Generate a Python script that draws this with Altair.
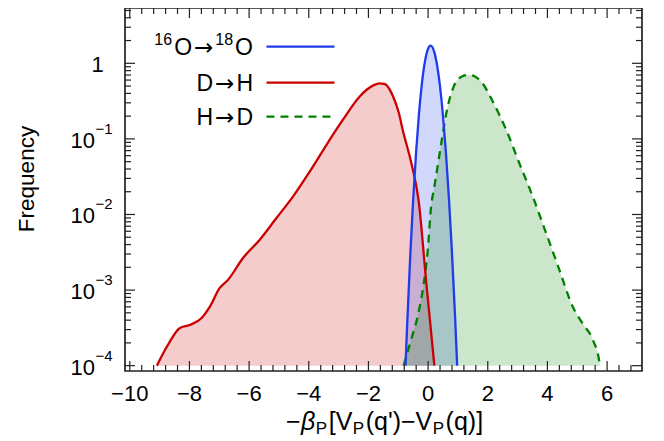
import altair as alt
import pandas as pd

FONT = "Liberation Sans"
AFONT = "DejaVu Sans"

# ---- data ----
blue_x = [-0.757, -0.70, -0.60, -0.50, -0.40, -0.30, -0.20, -0.10, 0.00, 0.08,
          0.20, 0.30, 0.40, 0.50, 0.60, 0.70, 0.80, 0.90, 0.975]
blue_y = [1.0e-4, 3.6e-4, 2.75e-3, 1.58e-2, 6.9e-2, 0.229, 0.574, 1.09, 1.56, 1.71,
          1.44, 0.95, 0.49, 0.20, 0.0635, 0.0159, 3.1e-3, 4.8e-4, 1.0e-4]

red_x = [-9.09, -8.88, -8.66, -8.33, -7.99, -7.60, -7.32, -6.99, -6.71, -6.21,
         -5.65, -5.09, -4.53, -3.97, -3.41, -2.86, -2.30, -2.05, -1.82, -1.63, -1.45,
         -1.30, -1.18, -0.98, -0.85, -0.56, -0.32, -0.06, 0.21]
red_y = [1.0e-4, 1.46e-4, 2.07e-4, 3.13e-4, 3.45e-4, 4.24e-4, 6.0e-4, 1.06e-3, 1.36e-3, 2.64e-3,
         4.6e-3, 8.9e-3, 1.72e-2, 3.68e-2, 8.3e-2, 0.178, 0.361, 0.45, 0.515, 0.543, 0.53,
         0.46, 0.37, 0.22, 0.131, 0.0475, 0.0155, 1.24e-3, 1.0e-4]

green_x = [-0.82, -0.57, -0.35, -0.18, -0.01, 0.10, 0.21, 0.44, 0.61, 0.88,
           1.12, 1.36, 1.58, 1.80, 2.17, 2.62, 3.06, 3.51, 3.96, 4.40, 4.85,
           5.18, 5.52, 5.74, 5.76]
green_y = [1.0e-4, 2.2e-4, 4.5e-4, 1.0e-3, 3.4e-3, 1.27e-2, 2.33e-2, 8.7e-2, 0.218, 0.516,
           0.665, 0.70, 0.665, 0.56, 0.31, 0.131, 0.0475, 0.0172, 5.6e-3, 1.85e-3, 6.0e-4,
           3.6e-4, 2.2e-4, 1.13e-4, 1.0e-4]

x_tick_labels = [-10, -8, -6, -4, -2, 0, 2, 4, 6]
y_major = [1e-4, 1e-3, 1e-2, 1e-1]
y_sup = ["\u22124", "\u22123", "\u22122", "\u22121"]

# ---- layout ----
W, H = 517, 363
XDOM = [-10.16, 7.17]
YDOM = [8.5e-5, 5.39]
BLUE, RED, GREEN = "#1e3ceb", "#cc0000", "#008000"
FRAME = "#222222"

xminor = [round(-10 + 0.4 * k, 1) for k in range(0, 43) if k % 5 != 0]
ymajor_all = [1e-4, 1e-3, 1e-2, 1e-1, 1.0]
yminor = [m * 10.0 ** d for d in range(-4, 1) for m in range(2, 10) if m * 10.0 ** d < YDOM[1]]

xs = alt.Scale(domain=XDOM, nice=False, zero=False)
ys = alt.Scale(type="log", domain=YDOM, nice=False)
XE = lambda f="x": alt.X(f + ":Q", scale=xs, axis=None)
YE = lambda f="y": alt.Y(f + ":Q", scale=ys, axis=None)

def series(xv, yv):
    return pd.DataFrame({"x": xv, "y": yv})

def area(df, color):
    return alt.Chart(df).mark_area(interpolate="monotone", color=color, opacity=0.2).encode(
        x=XE(), y=YE(), y2=alt.datum(1e-4))

def line(df, color, dash=None):
    kw = dict(interpolate="monotone", color=color, strokeWidth=2.3)
    if dash:
        kw["strokeDash"] = dash
    return alt.Chart(df).mark_line(**kw).encode(x=XE(), y=YE())

red_df = series(red_x, red_y)
blue_df = series(blue_x, blue_y)
green_df = series(green_x, green_y)

def xticks(vals, length):
    d = pd.DataFrame({"x": vals})
    bot = alt.Chart(d).mark_rule(color=FRAME, strokeWidth=1.2).encode(
        x=XE(), y=alt.value(H), y2=alt.value(H - length))
    top = alt.Chart(d).mark_rule(color=FRAME, strokeWidth=1.2).encode(
        x=XE(), y=alt.value(0), y2=alt.value(length))
    return [bot, top]

def yticks(vals, length):
    d = pd.DataFrame({"y": vals})
    lft = alt.Chart(d).mark_rule(color=FRAME, strokeWidth=1.2).encode(
        y=YE(), x=alt.value(0), x2=alt.value(length))
    rgt = alt.Chart(d).mark_rule(color=FRAME, strokeWidth=1.2).encode(
        y=YE(), x=alt.value(W), x2=alt.value(W - length))
    return [lft, rgt]

ticks = xticks(x_tick_labels, 10) + xticks(xminor, 6) + yticks(ymajor_all, 10) + yticks(yminor, 6)

# x tick labels
xlab_df = pd.DataFrame({"x": x_tick_labels,
                        "t": [str(v).replace("-", "\u2212") for v in x_tick_labels]})
xlabels = alt.Chart(xlab_df).mark_text(align="center", baseline="alphabetic", fontSize=22, font=FONT,
                                       color="black").encode(x=XE(), y=alt.value(H + 30), text="t:N")

# y tick labels 10^n
ylab_df = pd.DataFrame({"y": y_major, "sup": y_sup})
ten = alt.Chart(ylab_df).mark_text(text="10", align="right", baseline="alphabetic", dy=9,
                                   fontSize=22, font=FONT, color="black").encode(y=YE(), x=alt.value(-30))
sup = alt.Chart(ylab_df).mark_text(align="left", baseline="alphabetic", dy=-5,
                                   fontSize=15, font=FONT, color="black").encode(
    y=YE(), x=alt.value(-29.5), text="sup:N")
one = alt.Chart(pd.DataFrame({"y": [1.0]})).mark_text(text="1", align="left", baseline="alphabetic", dy=9,
                                                      fontSize=22, font=FONT, color="black").encode(
    y=YE(), x=alt.value(-33.5))

one_row = pd.DataFrame({"a": [0]})
ytitle = alt.Chart(one_row).mark_text(text="Frequency", angle=270, align="center", baseline="alphabetic",
                                      fontSize=22.5, font=FONT, color="black").encode(
    x=alt.value(-91), y=alt.value(171))

WID = {"\u2212": 584, "\u03b2": 575, "[": 278, "V": 667, "P": 667, "(": 333, "q": 556,
       "'": 191, ")": 333, "]": 278, "O": 778, "D": 722, "H": 722, "1": 556, "6": 556, "8": 556,
       "\u2192": 838}

def piece_w(t, s):
    return sum(WID[c] for c in t) * s / 1000.0

def text_piece(t, x, y, size, style="normal", font=FONT):
    return alt.Chart(one_row).mark_text(text=t, align="left", baseline="alphabetic", fontSize=size,
                                        font=font, fontStyle=style, color="black").encode(
        x=alt.value(x), y=alt.value(y))

# x title composed: -β_P[V_P(q')-V_P(q)]
F_MAIN, F_SUB = 25, 17
pieces = [("\u2212", F_MAIN, 0, "normal", 0.5), ("\u03b2", F_MAIN, 0, "italic", 0.5),
          ("P", F_SUB, 4, "normal", 1.5), ("[V", F_MAIN, 0, "normal", 0.5), ("P", F_SUB, 4, "normal", 1.5),
          ("(q')\u2212V", F_MAIN, 0, "normal", 0.5), ("P", F_SUB, 4, "normal", 1.5),
          ("(q)]", F_MAIN, 0, "normal", 0)]
widths = [piece_w(t, s) + g for t, s, dy, st, g in pieces]
pos = W / 2.0 + 1 - sum(widths) / 2.0
TITLE_BASE = 422
xtitle_layers = []
for (t, s, dy, st, g), w in zip(pieces, widths):
    xtitle_layers.append(text_piece(t, pos, TITLE_BASE + dy, s, st))
    pos += w

# legend (composed, right aligned at LEG_TX)
LEG_TX, LEG_X1, LEG_X2 = 128, 141.5, 209.5
LEG_Y = [38.7, 74.7, 108.7]
F_LEG, F_LSUP = 23, 16
rows = [
    [("16", F_LSUP, -10, FONT), ("O", F_LEG, 0, FONT), ("\u2192", F_LEG, 0, AFONT),
     ("18", F_LSUP, -10, FONT), ("O", F_LEG, 0, FONT)],
    [("D", F_LEG, 0, FONT), ("\u2192", F_LEG, 0, AFONT), ("H", F_LEG, 0, FONT)],
    [("H", F_LEG, 0, FONT), ("\u2192", F_LEG, 0, AFONT), ("D", F_LEG, 0, FONT)],
]
GAP = 2.0
legend_layers = []
for row, yy, col, dash in zip(rows, LEG_Y, [BLUE, RED, GREEN], [None, None, [8, 6]]):
    ws = [piece_w(t, s) for t, s, d, f in row]
    pos = LEG_TX - sum(ws) - GAP * (len(row) - 1)
    base = yy + 8.2
    for (t, s, d, f), w in zip(row, ws):
        legend_layers.append(text_piece(t, pos, base + d, s, "normal", f))
        pos += w + GAP
    kw = dict(color=col, strokeWidth=2.3)
    if dash:
        kw["strokeDash"] = dash
    legend_layers.append(
        alt.Chart(one_row).mark_rule(**kw).encode(x=alt.value(LEG_X1), x2=alt.value(LEG_X2), y=alt.value(yy)))

layers = ([area(red_df, RED), area(blue_df, BLUE), area(green_df, GREEN),
           line(green_df, GREEN, [8, 6]), line(red_df, RED), line(blue_df, BLUE)]
          + ticks + [xlabels, ten, sup, one, ytitle] + xtitle_layers + legend_layers)

chart = alt.layer(*layers).properties(
    width=W, height=H,
    autosize=alt.AutoSizeParams(type="none"),
    padding={"left": 117, "top": 0, "right": 12, "bottom": 70},
    background="white",
).configure_view(stroke=FRAME, strokeWidth=1.7)

chart.save("out.html", embed_options={"renderer": "svg", "actions": False})
